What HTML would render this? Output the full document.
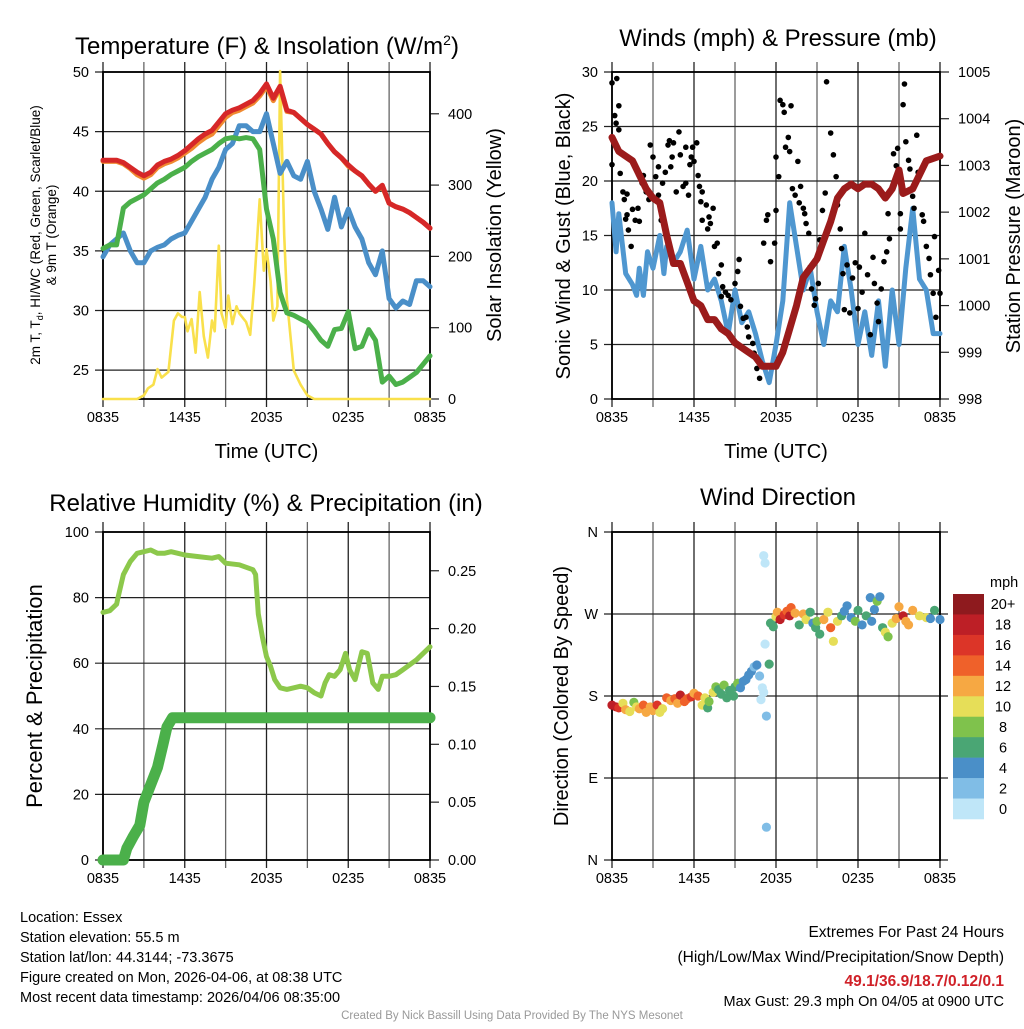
<!DOCTYPE html>
<html><head><meta charset="utf-8">
<style>
html,body{margin:0;padding:0;background:#fff;}
body{width:1024px;height:1024px;overflow:hidden;font-family:"Liberation Sans",Arial,sans-serif;}
svg text{font-family:"Liberation Sans",Arial,sans-serif;}
</style></head>
<body>
<svg id="chart" width="1024" height="1024" viewBox="0 0 1024 1024" xmlns="http://www.w3.org/2000/svg">
<g id="p1"></g>
<g id="p2"></g>
<g id="p3"></g>
<g id="p4"></g>
<g id="txt">
<text x="20" y="922" font-size="14.5">Location: Essex</text>
<text x="20" y="942" font-size="14.5">Station elevation: 55.5 m</text>
<text x="20" y="962" font-size="14.5">Station lat/lon: 44.3144; -73.3675</text>
<text x="20" y="982" font-size="14.5">Figure created on Mon, 2026-04-06, at 08:38 UTC</text>
<text x="20" y="1002" font-size="14.5">Most recent data timestamp: 2026/04/06 08:35:00</text>
<text x="1004" y="937" font-size="15.5" text-anchor="end">Extremes For Past 24 Hours</text>
<text x="1004" y="962" font-size="15.5" text-anchor="end">(High/Low/Max Wind/Precipitation/Snow Depth)</text>
<text x="1004" y="986" font-size="15.5" font-weight="bold" fill="#d02128" text-anchor="end">49.1/36.9/18.7/0.12/0.1</text>
<text x="1004" y="1006" font-size="14.5" text-anchor="end">Max Gust: 29.3 mph On 04/05 at 0900 UTC</text>
<text x="512" y="1019" font-size="11.5" fill="#999" text-anchor="middle">Created By Nick Bassill Using Data Provided By The NYS Mesonet</text>
</g>
</svg>
<script>
// ---------- DATA ----------
const xTickLabels = ["0835","1435","2035","0235","0835"];
// Temperature panel (hours since 0835)
const tempHours = [0,0.5,1,1.5,2,2.5,3,3.5,4,4.5,5,5.5,6,6.5,7,7.5,8,8.5,9,9.5,10,10.5,11,11.5,12,12.5,13,13.5,14,14.5,15,15.5,16,16.5,17,17.5,18,18.5,19,19.5,20,20.5,21,21.5,22,22.5,23,23.5,24];
const tempRed = [42.6,42.6,42.6,42.4,42.0,41.6,41.3,41.6,42.2,42.5,42.7,43.0,43.4,43.9,44.4,44.8,45.1,45.8,46.5,46.8,47.0,47.3,47.6,48.2,49.0,47.8,48.8,46.8,46.6,46.1,45.6,45.2,44.8,44.0,43.3,42.8,42.2,41.7,41.3,40.6,40.0,40.5,39.0,38.7,38.5,38.2,37.8,37.4,36.9];
const tempOrange = [42.5,42.5,42.5,42.3,41.9,41.4,41.1,41.4,42.0,42.3,42.5,42.8,43.2,43.6,44.1,44.5,44.8,45.5,46.2,46.6,46.8,47.1,47.4,48.0,48.8,47.6,48.7,46.7,46.6,46.1,45.6,45.2,44.8,44.0,43.3,42.8,42.1,41.7,41.3,40.6,40.0,40.4,39.0,38.7,38.5,38.2,37.8,37.4,36.9];
const tempGreen = [35.2,35.5,35.5,38.6,39.1,39.4,39.7,40.2,40.7,41.0,41.4,41.7,42.0,42.5,42.9,43.2,43.5,44.0,44.4,44.5,44.4,44.5,44.4,43.5,38.5,36.0,31.5,29.8,29.6,29.3,29.0,28.3,27.5,27.0,28.4,28.5,29.9,26.8,27.0,28.4,27.5,24.0,24.5,23.8,24.0,24.4,24.8,25.5,26.2];
const tempBlue = [34.5,35.5,36.0,36.5,35.0,34.0,34.0,35.0,35.3,35.5,36.0,36.3,36.5,37.5,38.5,39.5,41.0,42.0,43.5,44.0,45.5,45.5,45.0,45.0,46.5,44.0,41.5,42.5,41.3,41.0,42.5,40.0,38.5,36.8,39.5,37.0,38.5,37.0,36.0,34.0,33.0,35.0,31.0,30.2,30.8,30.5,32.5,32.5,32.0];
const solarHours = [0,2.5,3,3.3,3.7,4,4.3,4.8,5.2,5.5,5.8,6,6.2,6.5,6.8,7.1,7.4,7.7,8,8.2,8.5,8.7,9,9.2,9.5,9.8,10,10.5,10.8,11.1,11.5,11.8,12,12.3,12.5,12.8,13,13.3,13.5,14,14.5,15,15.5,24];
const solarValues = [0,0,5,15,20,42,30,38,110,120,115,115,95,112,65,150,88,58,110,95,215,120,100,145,105,130,120,108,90,160,280,180,210,165,110,130,460,230,140,40,20,5,0,0];
// Winds panel
const windHours = [0,0.3,0.5,1,1.5,1.8,2,2.3,2.6,3,3.5,3.8,4,4.5,5,5.5,6,6.5,7,7.5,8,8.5,9,9.5,10,10.5,11,11.5,12,12.5,13,13.5,14,14.5,15,15.5,16,16.5,17,17.5,18,18.5,19,19.5,20,20.5,21,21.5,22,22.5,23,23.5,24];
const windSpeed = [18,13.5,17,11.5,10.5,9.5,12,9.5,13.5,12,15,11.5,14,12.5,13.5,15.5,11,14,10,11,9,6,10,7,8,6,3.5,1.5,5,9,18,14,10,12,8,5,9,8,14,10,5,8,4,9,3,10,5,12,17.5,11,10,6,6];
const pressHours = [0,0.5,1,1.5,2,2.5,3,3.5,4,4.5,5,5.5,6,6.5,7,7.5,8,8.5,9,9.5,10,10.5,11,11.5,12,12.5,13,13.5,14,14.5,15,15.5,16,16.5,17,17.5,18,18.5,19,19.5,20,20.5,21,21.3,22,22.5,23,24];
const pressValues = [1003.6,1003.3,1003.2,1003.1,1002.8,1002.5,1002.3,1002.2,1001.5,1000.9,1000.9,1000.5,1000.1,1000.0,999.7,999.7,999.5,999.4,999.2,999.1,999.0,998.9,998.7,998.7,998.7,999.0,999.5,1000.0,1000.6,1000.8,1001.0,1001.4,1001.8,1002.3,1002.5,1002.6,1002.5,1002.6,1002.6,1002.5,1002.3,1002.5,1002.9,1002.4,1002.5,1002.8,1003.1,1003.2];
const gustHours = [0,0.35,0.5,0.2,0.3,0.5,0,0.6,0.8,0.9,1.1,1.0,1.1,1.2,1.4,1.5,1.7,1.9,2,2.2,2.3,2.5,2.7,2.8,3,3.2,3.4,3.4,3.6,3.7,3.9,4.1,4.2,4.3,4.4,4.5,4.7,4.9,5,5.2,5.4,5.4,5.6,5.7,5.8,5.9,6,6.2,6.3,6.4,6.5,6.6,6.6,6.9,7,7.1,7.2,7.4,7.5,7.7,7.8,8,8,8.1,8.3,8.5,8.7,9,9.2,9.3,9.4,9.6,9.8,9.9,10,10.3,10.4,10.6,10.8,11.1,11.3,11.4,11.6,11.9,12,12,12.2,12.3,12.5,12.6,12.7,12.9,13,13.1,13.2,13.4,13.6,13.7,13.8,14,14.1,14.2,14.4,14.5,14.6,14.8,14.9,15.1,15.2,15.4,15.6,15.7,16,16.2,16.4,16.5,16.7,16.8,16.9,17.0,17.2,17.4,17.6,17.8,18,18.1,18.3,18.5,18.7,18.9,19.1,19.2,19.4,19.5,19.7,19.9,20.1,20.2,20.3,20.6,20.8,20.9,21.1,21.1,21.3,21.4,21.5,21.7,21.8,22,22.1,22.3,22.4,22.7,22.8,23,23.2,23.3,23.5,23.6,23.7,23.9,24];
const gustValues = [29,29.4,26.9,26,25.3,24.7,21.5,20.7,19,18.3,18.8,16.5,16.9,15.5,14,17.4,16.4,17.5,16.3,19.8,20.5,19,18.3,23.3,22.2,20.4,21.3,18.7,16.4,19.8,20.8,23.3,23.7,21.3,22.2,23.5,19,24.5,22.4,19.5,19.8,23.1,18.7,21.5,22.2,23.1,21.8,23.5,20.5,19.5,18.1,19,16.4,17.8,15.6,16.7,16.1,17.5,14,14.3,11.5,12.3,9.4,10.3,9.8,9.5,9.1,10.6,11.7,12.8,8.5,7.4,7.5,6.6,5.7,5.1,4.2,2.8,1.9,14.3,16.4,16.9,12.6,14.3,17.3,22.2,20.4,27.4,27,26.3,23.1,24,22.7,26.9,19.3,18.7,21.8,18,19.5,17.5,17,16.1,15.2,12.1,10.1,8.6,9.2,10.6,14.6,17.3,18.9,29.1,24.4,22.4,20.4,17.8,15.6,13.8,11.5,8.2,12.3,7.9,11.1,12.5,8.3,12.1,9.8,15.2,11.4,5.9,13,10.6,8.8,7.1,10.1,12.6,13.5,17,14.7,22.5,21.4,23,17,15.6,27,28.9,23.6,21.9,21.1,18.6,17.5,24.2,20.8,16.9,16.3,14,12.9,11.4,9.7,14.9,7.5,11.8,9.7];
// RH panel
const rhHours = [0,0.5,1,1.1,1.5,2,2.5,3,3.5,4,4.5,5,5.5,6,7,8,8.5,9,10,11,11.2,11.4,11.7,12,12.3,12.6,13,13.5,14,14.5,15,15.5,16,16.3,16.6,17,17.4,17.8,18.1,18.5,19,19.4,19.8,20.2,20.5,21,21.5,22,23,24];
const rhValues = [75.5,76,78,80,87,91,93.5,94,94.5,93.5,93.5,94,93.5,93,92.5,92,92.5,90.5,90,88.5,87,75,68,62,59,55,52.5,52,52.5,53,52.5,51,50,54,56.5,56,58,63,58,55,63.5,63,54,52,56,56,56.5,58,61,65];
const precipHours = [0,1.5,1.75,2.2,2.7,3,3.5,4,4.4,4.7,5.1,24];
const precipValues = [0,0,0.01,0.02,0.03,0.05,0.065,0.08,0.1,0.115,0.123,0.123];
// Wind direction panel
const dirHours = [0,0.3,0.5,0.8,1,1.3,1.6,1.8,2,2.3,2.5,2.8,3,3.3,3.5,3.7,4,4.3,4.6,4.8,5,5.3,5.5,5.8,6,6.3,6.6,6.8,7,7.1,7.4,7.6,7.8,8,8.2,8.4,8.6,8.9,9,9.2,9.4,9.6,9.8,10,10.2,10.4,10.6,10.8,11,10.9,11.1,11.2,11.1,11.2,11.3,11.3,11.5,11.6,11.8,12,12.1,12.3,12.6,12.8,13,13.1,13.4,13.7,14,14.2,14.5,14.7,14.9,15,15.2,15.5,15.8,16,16.2,16.5,16.8,17,17.2,17.5,17.8,18,18.3,18.6,18.9,19,19.2,19.4,19.6,19.8,20,20.2,20.5,20.8,21,21.3,21.5,21.7,22,22.5,23,23.3,23.6,24];
const dirDegrees = [170,168,167,172,165,163,173,168,166,170,162,168,164,170,162,166,178,175,177,172,181,174,177,179,183,180,170,178,167,174,184,190,187,182,192,178,186,180,190,194,189,196,198,203,207,212,214,202,189,176,184,237,334,326,36,158,215,260,256,267,272,264,269,273,268,277,271,258,270,264,272,260,255,262,248,264,272,255,240,262,268,273,279,266,262,274,258,268,288,262,275,284,289,255,250,245,260,265,278,268,262,258,274,268,266,265,274,264];
const dirSpeeds = [18,19,17,10,12,11,8,10,12,14,13,12,13,16,10,11,14,13,14,12,18,14,15,16,13,14,10,11,7,9,10,8,6,7,8,6,6,6,7,8,4,4,5,4,4,3,4,3,1,1,1,1,1,1,2,2,6,6,6,10,12,18,17,15,18,14,13,7,12,10,6,4,6,8,6,12,10,14,10,10,6,4,4,5,8,6,4,6,4,5,4,8,4,6,10,8,10,12,12,18,12,12,12,11,10,4,6,4];
const cbLabels = ["20+","18","16","14","12","10","8","6","4","2","0"];
const cbColors = ["#8e1a1e","#bd1f26","#dc3528","#ef612a","#f6a843","#e6de58","#7fc24c","#4aa674","#4a8fc8","#80bde6","#bfe6f8"];

// ---------- HELPERS ----------
const NS="http://www.w3.org/2000/svg";
function mk(parent,tag,attrs,text){const e=document.createElementNS(NS,tag);for(const k in attrs)e.setAttribute(k,attrs[k]);if(text!==undefined)e.textContent=text;parent.appendChild(e);return e;}
function scale(d0,d1,r0,r1){return v=>r0+(v-d0)*(r1-r0)/(d1-d0);}
function pathFrom(xs,ys,fx,fy){return xs.map((h,i)=>(i?"L":"M")+fx(h).toFixed(1)+","+fy(ys[i]).toFixed(1)).join("");}

function frame(g,L,T,R,B,leftTicks,fyL,leftFmt,rightTicks,fyR,rightFmt,showXTitle){
  const fx=scale(0,24,L,R);
  // vertical grid every 3 hrs
  for(let h=0;h<=24;h+=3){
    const gl=mk(g,"line",{x1:fx(h),x2:fx(h),y1:T-10,y2:B+8,stroke:h%6?"#666":"#222","stroke-width":1.3});
    
    
  }
  leftTicks.forEach(v=>{
    const y=fyL(v);
    const hl=mk(g,"line",{x1:L-8,x2:R+(rightTicks?0:8),y1:y,y2:y,stroke:"#222","stroke-width":1.2});
    
    
    const t=mk(g,"text",{x:L-14,y:y+5,"font-size":14.5,"text-anchor":"end"},leftFmt(v));
    
    
  });
  if(rightTicks){rightTicks.forEach(v=>{
    const y=fyR(v);
    const tl=mk(g,"line",{x1:R,x2:R+9,y1:y,y2:y,stroke:"#222","stroke-width":1.2});
    
    
    const t=mk(g,"text",{x:R+18,y:y+5,"font-size":14.5},rightFmt(v));
    
    
  });}
  const box=mk(g,"rect",{x:L,y:T,width:R-L,height:B-T,fill:"none",stroke:"#000","stroke-width":1.8});
  
  
  xTickLabels.forEach((s,i)=>{
    const t=mk(g,"text",{x:fx(i*6),y:B+23,"font-size":14.5,"text-anchor":"middle"},s);
    
    
  });
  if(showXTitle){
    const t=mk(g,"text",{x:(L+R)/2,y:B+59,"font-size":20,"text-anchor":"middle"},"Time (UTC)");
    
    
  }
  return fx;
}
function vtext(g,x,y,size,str,name){
  const t=mk(g,"text",{x:0,y:0,"font-size":size,"text-anchor":"middle",transform:`translate(${x},${y}) rotate(-90)`},str);
  
  
  return t;
}
function title(g,x,y,str,name){
  const t=mk(g,"text",{x:x,y:y,"font-size":24,"text-anchor":"middle"},str);
  
  
  return t;
}
function line(g,d,color,w,name){
  const p=mk(g,"path",{d:d,fill:"none",stroke:color,"stroke-width":w,"stroke-linejoin":"round","stroke-linecap":"round"});
  
  
  return p;
}

// ---------- PANEL 1 ----------
(function(){
  const g=document.getElementById("p1");
  const L=103,T=72,R=430,B=399;
  const fy=scale(22.58,50,B,T), fyR=scale(0,458.6,B,T);
  const fx=frame(g,L,T,R,B,[25,30,35,40,45,50],fy,v=>v,[0,100,200,300,400],fyR,v=>v,true);
  const t=title(g,267,54,"","temperature-title");
  t.innerHTML='Temperature (F) &amp; Insolation (W/m<tspan dy="-9" font-size="14">2</tspan><tspan dy="9">)</tspan>';
  line(g,pathFrom(solarHours,solarValues,fx,fyR),"#f9e04b",2.6,"solar-insolation-line");
  line(g,pathFrom(tempHours,tempBlue,fx,fy),"#4a8fc8",5,"wind-chill-line");
  line(g,pathFrom(tempHours,tempGreen,fx,fy),"#4bb04a",5,"dewpoint-line");
  line(g,pathFrom(tempHours,tempOrange,fx,fy),"#f08a30",5,"temp-9m-line");
  line(g,pathFrom(tempHours,tempRed,fx,fy),"#d62728",5,"temp-2m-line");
  const lt=vtext(g,40,235,13.5,"","left-axis-title");
  lt.innerHTML='2m T, T<tspan dy="3" font-size="9">d</tspan><tspan dy="-3">, HI/WC (Red, Green, Scarlet/Blue)</tspan>';
  vtext(g,56,235,13.5,"& 9m T (Orange)","left-axis-title-line2");
  vtext(g,501,235,20,"Solar Insolation (Yellow)","right-axis-title");
})();

// ---------- PANEL 2 ----------
(function(){
  const g=document.getElementById("p2");
  const L=612,T=72,R=940,B=399;
  const fy=scale(0,30,B,T), fyR=scale(998,1005,B,T);
  const fx=frame(g,L,T,R,B,[0,5,10,15,20,25,30],fy,v=>v,[998,999,1000,1001,1002,1003,1004,1005],fyR,v=>v,true);
  title(g,778,46,"Winds (mph) & Pressure (mb)","winds-title");
  line(g,pathFrom(windHours,windSpeed,fx,fy),"#4f97d0",5,"sonic-wind-line");
  gustHours.forEach((h,i)=>{
    const c=mk(g,"circle",{cx:fx(h),cy:fy(gustValues[i]),r:2.8,fill:"#000"});
    
    
  });
  line(g,pathFrom(pressHours,pressValues,fx,fyR),"#9b1b1b",7,"station-pressure-line");
  vtext(g,570,236,20,"Sonic Wind & Gust (Blue, Black)","left-axis-title");
  vtext(g,1020,236,20,"Station Pressure (Maroon)","right-axis-title");
})();

// ---------- PANEL 3 ----------
(function(){
  const g=document.getElementById("p3");
  const L=103,T=532,R=430,B=860;
  const fy=scale(0,100,B,T), fyR=scale(0,0.2835,B,T);
  const fx=frame(g,L,T,R,B,[0,20,40,60,80,100],fy,v=>v,[0,0.05,0.10,0.15,0.20,0.25],fyR,v=>v.toFixed(2),false);
  title(g,266,511,"Relative Humidity (%) & Precipitation (in)","humidity-title");
  line(g,pathFrom(rhHours,rhValues,fx,fy),"#8cc84b",5,"relative-humidity-line");
  line(g,pathFrom(precipHours,precipValues,fx,fyR),"#4bb04a",11,"precipitation-line");
  vtext(g,42,696,22,"Percent & Precipitation","left-axis-title");
})();

// ---------- PANEL 4 ----------
(function(){
  const g=document.getElementById("p4");
  const L=612,T=532,R=940,B=860;
  const fy=scale(0,360,B,T);
  const labs={0:"N",90:"E",180:"S",270:"W",360:"N"};
  const fx=frame(g,L,T,R,B,[0,90,180,270,360],fy,v=>labs[v],null,null,null,false);
  title(g,778,505,"Wind Direction","wind-direction-title");
  function col(s){let i=Math.floor(s/2);if(i>10)i=10;return cbColors[10-i];}
  dirHours.forEach((h,i)=>{
    const c=mk(g,"circle",{cx:fx(h),cy:fy(dirDegrees[i]),r:4.6,fill:col(dirSpeeds[i])});
    
    
  });
  vtext(g,568,696,20,"Direction (Colored By Speed)","left-axis-title");
  const cb=mk(g,"g",{});
  
  
  const ch=(819-594)/cbColors.length;
  cbColors.forEach((c,i)=>{
    const r=mk(cb,"rect",{x:953,y:594+i*ch,width:31,height:ch+0.3,fill:c});
    
    
    const t=mk(cb,"text",{x:1003,y:594+i*ch+ch/2+5,"font-size":14.5,"text-anchor":"middle"},cbLabels[i]);
    
    
  });
  const u=mk(cb,"text",{x:990,y:587,"font-size":14.5},"mph");
  
  
})();
</script>
</body></html>
